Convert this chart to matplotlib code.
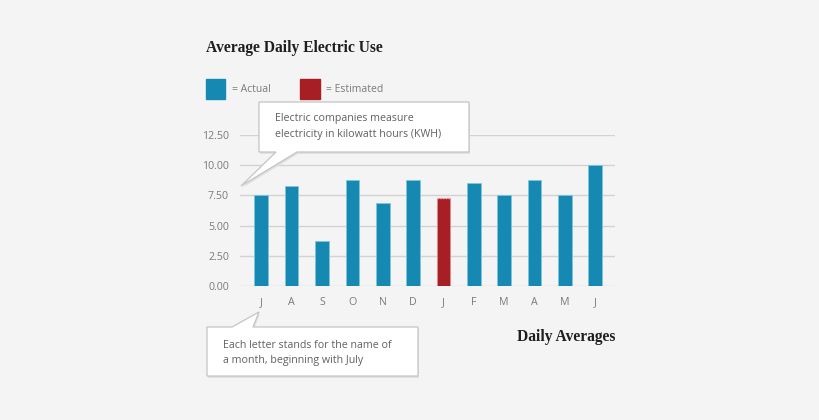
import matplotlib
matplotlib.use("Agg")
import matplotlib.pyplot as plt
from matplotlib.patches import Polygon, Rectangle

months = ['J', 'A', 'S', 'O', 'N', 'D', 'J', 'F', 'M', 'A', 'M', 'J']
usage = [7.5, 8.25, 3.75, 8.75, 6.9, 8.75, 7.25, 8.5, 7.5, 8.75, 7.5, 10.0]
estimated = [False, False, False, False, False, False, True, False, False, False, False, False]
y_ticks = [0.0, 2.5, 5.0, 7.5, 10.0, 12.5]

BLUE = '#1589b1'
RED = '#a71e24'
BG = '#f4f4f4'
GREY_TXT = '#7a7a7a'
SANS = 'Open Sans'
SERIF = 'Liberation Serif'

W, H = 820, 420


def px(x, y):
    return (x / W, 1 - y / H)


fig = plt.figure(figsize=(8.2, 4.2), dpi=100, facecolor=BG)
ax = fig.add_axes([240 / W, 1 - 286 / H, (615 - 240) / W, (286 - 135) / H])
ax.set_facecolor(BG)

colors = [RED if e else BLUE for e in estimated]
edges = ['#e88a8d' if e else '#7cc6de' for e in estimated]
bars = ax.bar(range(len(months)), usage, width=0.45, color=colors,
              edgecolor=edges, linewidth=0.6, zorder=3)

# estimated bar gets a dotted top edge
for i, e in enumerate(estimated):
    if e:
        b = bars[i]
        ax.plot([b.get_x(), b.get_x() + b.get_width()], [usage[i], usage[i]],
                color='#f2b8ba', linestyle=(0, (1, 1)), linewidth=1.0, zorder=4)

ax.set_xlim(-0.7, 11.65)
ax.set_ylim(0, 12.5)
ax.set_yticks(y_ticks)
ax.set_yticklabels(['%.2f' % v for v in y_ticks])
ax.set_xticks(range(len(months)))
ax.set_xticklabels(months)
ax.grid(axis='y', color='#d2d2d2', linewidth=1.0, zorder=0)
for s in ax.spines.values():
    s.set_visible(False)
ax.tick_params(length=0, labelsize=7.7, colors=GREY_TXT, pad=8)
for lbl in ax.get_xticklabels() + ax.get_yticklabels():
    lbl.set_fontfamily(SANS)

# title and axis caption
fig.text(*px(206, 48), 'Average Daily Electric Use', family=SERIF,
         weight='bold', fontsize=11.2, color='#1e1e1e', va='center')
fig.text(*px(615, 337), 'Daily Averages', family=SERIF, weight='bold',
         fontsize=11.2, color='#1e1e1e', va='center', ha='right')

# legend
fig.patches.append(Rectangle(px(206, 99), 19 / W, 20 / H, color=BLUE,
                             transform=fig.transFigure))
fig.text(*px(232, 89), '= Actual', family=SANS, fontsize=7.5,
         color=GREY_TXT, va='center')
fig.patches.append(Rectangle(px(300, 99), 20 / W, 20 / H, color=RED,
                             transform=fig.transFigure))
fig.text(*px(326, 89), '= Estimated', family=SANS, fontsize=7.5,
         color=GREY_TXT, va='center')


def callout(points, lines, tx, ty):
    shadow = Polygon([px(x + 1, y + 2) for x, y in points], closed=True,
                     transform=fig.transFigure, facecolor='#e0e0e0',
                     edgecolor='none', zorder=4)
    box = Polygon([px(x, y) for x, y in points], closed=True,
                  transform=fig.transFigure, facecolor='white',
                  edgecolor='#c4c4c4', linewidth=0.9, zorder=5)
    fig.patches.append(shadow)
    fig.patches.append(box)
    for i, t in enumerate(lines):
        fig.text(*px(tx, ty + i * 15), t, family=SANS, fontsize=7.7,
                 color='#606060', va='center', zorder=6)


callout([(259, 102), (469, 102), (469, 152), (297, 152), (241, 186),
         (276, 152), (259, 152)],
        ['Electric companies measure',
         'electricity in kilowatt hours (KWH)'], 275, 119)

callout([(207, 327), (232, 327), (259, 312), (253, 327), (418, 327),
         (418, 376), (207, 376)],
        ['Each letter stands for the name of',
         'a month, beginning with July'], 223, 345)

fig.savefig('out.png', dpi=100, facecolor=BG)
